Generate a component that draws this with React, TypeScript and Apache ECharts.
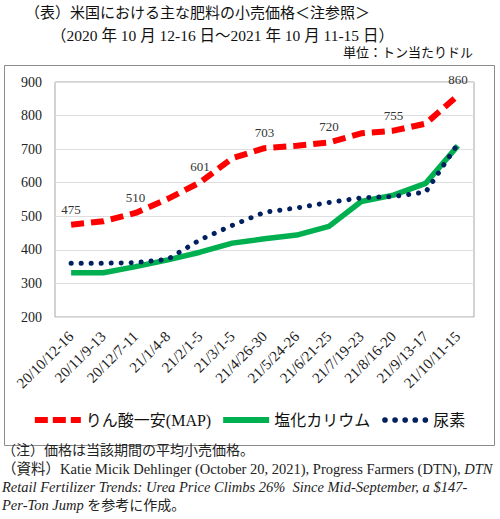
import React, { useEffect, useRef } from "react";
import * as echarts from "echarts";

const categories = [
  "20/10/12-16", "20/11/9-13", "20/12/7-11", "21/1/4-8", "21/2/1-5", "21/3/1-5",
  "21/4/26-30", "21/5/24-26", "21/6/21-25", "21/7/19-23", "21/8/16-20", "21/9/13-17", "21/10/11-15",
];
const mapValues = [475, 485, 510, 552, 601, 673, 703, 710, 720, 747, 755, 776, 860];
const potashValues = [332, 332, 350, 370, 393, 420, 433, 444, 470, 544, 563, 598, 710];
const ureaValues = [360, 360, 362, 372, 430, 473, 512, 525, 541, 555, 559, 572, 716];
const seriesNames = ["りん酸一安(MAP)", "塩化カリウム", "尿素"];
const titleLine1 = "（表）米国における主な肥料の小売価格＜注参照＞";
const titleLine2 = "（2020 年 10 月 12-16 日～2021 年 10 月 11-15 日）";
const unitText = "単位：トン当たりドル";

const SERIF = "'Liberation Serif', 'Noto Sans CJK JP', serif";
const MIX = "'Liberation Serif', 'Noto Sans CJK JP', serif";

const dashIcon = "path://M0,0h13v6h-13z M18,0h13v6h-13z M36,0h10v6h-10z";
const solidIcon = "path://M0,0h46v6h-46z";
const dotIcon =
  "path://" +
  [3, 13, 23, 33, 43]
    .map((c) => `M${c - 2.8},3a2.8,2.8 0 1,0 5.6,0a2.8,2.8 0 1,0 -5.6,0z`)
    .join(" ");

export default function App() {
  const ref = useRef<HTMLDivElement>(null);
  useEffect(() => {
    if (!ref.current) return;
    const chart = echarts.init(ref.current, null, { renderer: "svg" });
    chart.setOption({
      animation: false,
      backgroundColor: "#fff",
      textStyle: { fontFamily: MIX },
      title: [
        { text: titleLine1, left: 20, top: 0, textStyle: { fontSize: 15, fontWeight: "normal", color: "#111", fontFamily: MIX } },
        { text: titleLine2, left: 46, top: 23, textStyle: { fontSize: 15.5, fontWeight: "normal", color: "#111", fontFamily: MIX } },
        { text: unitText, right: 22, top: 41, textStyle: { fontSize: 13, fontWeight: "normal", color: "#111", fontFamily: MIX } },
      ],
      graphic: [
        { type: "rect", left: 2, top: 63, z: -10, shape: { width: 490, height: 380 }, style: { fill: "none", stroke: "#8c8c8c", lineWidth: 1 } },
        {
          type: "text", left: 2, top: 443, style: {
            text: "（注）価格は当該期間の平均小売価格。", font: "14px " + MIX, fill: "#222",
          },
        },
        {
          type: "text", left: 2, top: 462, style: {
            text: "{n|（資料）Katie Micik Dehlinger (October 20, 2021), Progress Farmers (DTN), }{i|DTN}",
            fill: "#222", font: "14.5px " + MIX,
            rich: {
              n: { fontSize: 14.5, fontFamily: MIX, fill: "#222" },
              i: { fontSize: 14.5, fontFamily: SERIF, fontStyle: "italic", fill: "#222" },
            },
          },
        },
        {
          type: "text", left: 2, top: 480, style: {
            text: "{i|Retail Fertilizer Trends: Urea Price Climbs 26%  Since Mid-September, a $147-}",
            fill: "#222", font: "14.5px " + MIX,
            rich: { i: { fontSize: 14.5, fontFamily: SERIF, fontStyle: "italic", fill: "#222" } },
          },
        },
        {
          type: "text", left: 2, top: 498, style: {
            text: "{i|Per-Ton Jump} {n|を参考に作成。}",
            fill: "#222", font: "14.5px " + MIX,
            rich: {
              i: { fontSize: 14.5, fontFamily: SERIF, fontStyle: "italic", fill: "#222" },
              n: { fontSize: 14, fontFamily: MIX, fill: "#222" },
            },
          },
        },
      ],
      legend: {
        top: 407,
        left: "center",
        itemWidth: 46,
        itemHeight: 6,
        itemGap: 12,
        textStyle: { fontSize: 16, color: "#111", fontFamily: MIX },
        data: [
          { name: seriesNames[0], icon: dashIcon },
          { name: seriesNames[1], icon: solidIcon },
          { name: seriesNames[2], icon: dotIcon },
        ],
      },
      grid: {
        left: 55, top: 82, width: 419, height: 235,
        show: true, borderColor: "#a6a6a6", borderWidth: 1,
      },
      xAxis: {
        type: "category",
        data: categories,
        boundaryGap: true,
        axisLine: { show: false },
        axisTick: { show: false },
        axisLabel: { rotate: 45, fontSize: 15, color: "#222", margin: 17, fontFamily: SERIF, interval: 0 },
      },
      yAxis: {
        type: "value",
        min: 200, max: 900, interval: 100,
        axisLine: { show: false },
        axisTick: { show: false },
        axisLabel: { fontSize: 14, color: "#222", margin: 13, fontFamily: SERIF },
        splitLine: { lineStyle: { color: "#dedede", width: 1 } },
      },
      series: [
        {
          name: seriesNames[0], type: "line", data: mapValues,
          symbol: "circle", symbolSize: 0.1, showSymbol: true,
          lineStyle: { color: "#ff0000", width: 6, type: [13, 7], cap: "butt" },
          itemStyle: { color: "#ff0000" },
          label: {
            show: true, position: "top", distance: 9, fontSize: 13, color: "#333", fontFamily: SERIF,
            formatter: (p: any) => (p.dataIndex % 2 === 0 ? String(p.value) : ""),
          },
        },
        {
          name: seriesNames[1], type: "line", data: potashValues, symbol: "none",
          lineStyle: { color: "#00b050", width: 5.5, type: "solid" },
          itemStyle: { color: "#00b050" },
        },
        {
          name: seriesNames[2], type: "line", data: ureaValues, symbol: "none",
          lineStyle: { color: "#002060", width: 5, type: [0.1, 9.9], cap: "round" },
          itemStyle: { color: "#002060" },
        },
      ],
    });
    return () => chart.dispose();
  }, []);
  return <div ref={ref} style={{ position: "absolute", left: 0, top: 0, width: 500, height: 519 }} />;
}
